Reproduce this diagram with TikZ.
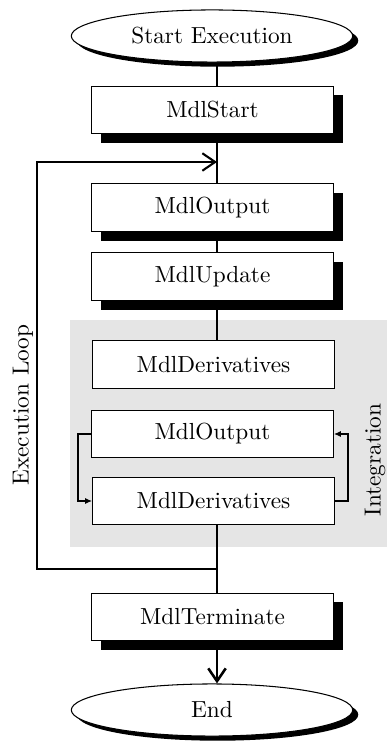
\documentclass[tikz,border=0pt]{standalone}
\usetikzlibrary{arrows.meta,shapes.geometric,shadows}
\definecolor{panel}{HTML}{E5E5E5}

\begin{document}
\begin{tikzpicture}[x=0.43pt,y=-0.43pt,line join=miter,
  box/.style={draw,line width=0.45pt,fill=white,minimum width=104pt,
    minimum height=20.6pt,inner sep=0pt},
  heavybox/.style={box,drop shadow={shadow xshift=4pt,shadow yshift=-4pt,
    fill=black,opacity=1}},
  terminal/.style={ellipse,draw,line width=0.45pt,fill=white,minimum width=121pt,
    minimum height=22.4pt,inner sep=0pt,drop shadow={shadow xshift=2.4pt,
    shadow yshift=-2pt,fill=black,opacity=1}},
  flow/.style={line width=1.1pt},
  loopline/.style={line width=0.9pt},
  chevron/.style={-{Straight Barb[length=5.5pt,width=7.5pt]}},
  inner/.style={line width=0.5pt,-{Latex[length=3pt,width=2.6pt]}}]
  \useasboundingbox (0,0) rectangle (387,742);

  % Integration panel
  \fill[panel] (70,320) rectangle (387,547);

  \node[terminal] (start) at (212,36) {Start Execution};
  \node[heavybox] (init) at (212.5,110) {MdlStart};
  \node[heavybox] (out) at (212.5,207.5) {MdlOutput};
  \node[heavybox] (upd) at (212.5,276.5) {MdlUpdate};
  \node[box] (der) at (213.5,364.5) {MdlDerivatives};
  \node[box] (intout) at (212.5,434) {MdlOutput};
  \node[box] (intder) at (213.5,501) {MdlDerivatives};
  \node[heavybox] (term) at (212.5,617) {MdlTerminate};
  \node[terminal] (end) at (212,710) {End};

  \node[rotate=90] (looplabel) at (23,405) {Execution Loop};
  \node[rotate=90] (intlabel) at (375,460) {Integration};

  % main spine, a bit right of the box centres
  \coordinate (spine) at (217,0);
  \coordinate (rejoin) at (217,162);
  \coordinate (leave) at (217,569);
  \coordinate (corner) at (37,162);

  \draw[flow] (start.south -| spine) -- (init.north -| spine);
  \draw[flow] (init.south -| spine) -- (out.north -| spine);
  \draw[flow] (out.south -| spine) -- (upd.north -| spine);
  \draw[flow] (upd.south -| spine) -- (der.north -| spine);
  \draw[flow] (intder.south -| spine) -- (term.north -| spine);
  \draw[flow,chevron] (term.south -| spine) -- (end.north -| spine);

  % execution loop back to the top
  \draw[loopline,chevron] (leave) -| (corner) -- (rejoin);

  % integration sub-loop
  \draw[inner] (intout.west) -- ++(-13,0) |- (intder.west);
  \draw[inner] (intder.east) -- ++(13,0) |- (intout.east);
\end{tikzpicture}
\end{document}
